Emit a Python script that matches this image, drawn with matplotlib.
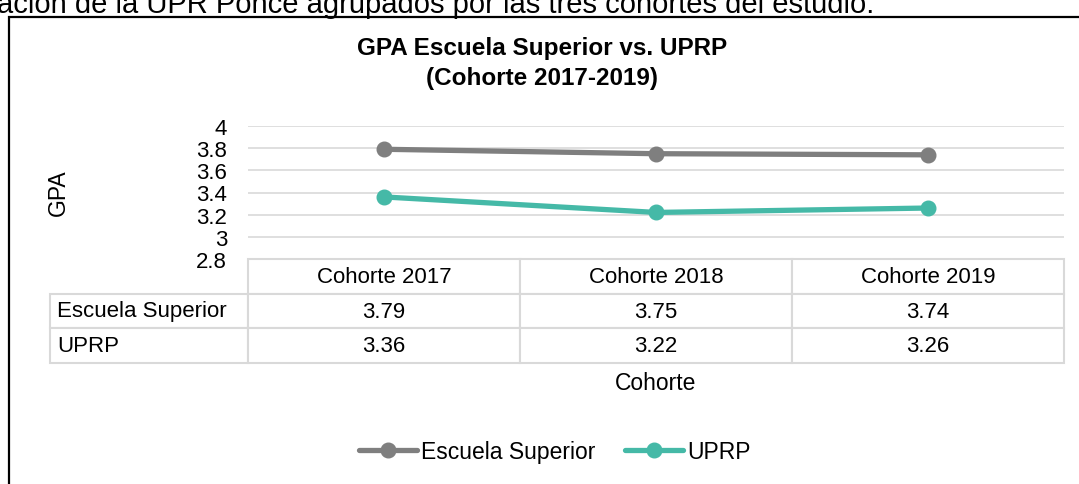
import matplotlib
matplotlib.use("Agg")
import matplotlib.pyplot as plt
from matplotlib.table import Table
from matplotlib.patches import Rectangle
from matplotlib.lines import Line2D

# ---- data ----
categories = ["Cohorte 2017", "Cohorte 2018", "Cohorte 2019"]
series_names = ["Escuela Superior", "UPRP"]
escuela_superior = [3.79, 3.75, 3.74]
uprp = [3.36, 3.22, 3.26]
y_ticks = [2.8, 3.0, 3.2, 3.4, 3.6, 3.8, 4.0]
y_tick_labels = ["2.8", "3", "3.2", "3.4", "3.6", "3.8", "4"]
title_lines = ["GPA Escuela Superior vs. UPRP", "(Cohorte 2017-2019)"]
top_text = "ación de la UPR Ponce agrupados por las tres cohortes del estudio."

colors = ["#7f7f7f", "#45b9a7"]
FONT = "Liberation Sans"
plt.rcParams["font.family"] = [FONT, "DejaVu Sans"]

W, H = 1079, 485
fig = plt.figure(figsize=(W / 100, H / 100), dpi=100)
fig.patch.set_facecolor("white")

def fx(px):
    return px / W

def fy(py):
    return 1 - py / H

# frame of the chart box (extends beyond right / bottom edges)
fig.add_artist(Rectangle((fx(9), -0.2), 1.5, fy(18) + 0.2, transform=fig.transFigure,
                         fill=False, ec="black", lw=1.6))

# cut-off document text at top
fig.text(fx(-3), fy(13), top_text, fontsize=21, ha="left", va="baseline", color="black")

# plot area
ax_l, ax_r, ax_t, ax_b = 248, 1064, 127, 260
ax = fig.add_axes([fx(ax_l), fy(ax_b), fx(ax_r - ax_l), (ax_b - ax_t) / H])
x = list(range(len(categories)))
series = [escuela_superior, uprp]
for vals, c, name in zip(series, colors, series_names):
    ax.plot(x, vals, color=c, lw=3.8, marker="o", ms=10.5, solid_capstyle="round",
            label=name, zorder=3)

ax.set_xlim(-0.5, len(categories) - 0.5)
ax.set_ylim(2.8, 4.0)
ax.set_yticks(y_ticks)
ax.set_yticklabels(y_tick_labels)
ax.set_xticks([])
ax.tick_params(axis="y", length=0, pad=15, labelsize=16, labelcolor="black")
for s in ax.spines.values():
    s.set_visible(False)
ax.yaxis.grid(True, color="#d9d9d9", lw=1.2)
ax.set_axisbelow(True)

# data table below the plot (widths/heights in axes fractions)
tab_l, tab_b = 50, 364
axw, axh = ax_r - ax_l, ax_b - ax_t
n_rows = 1 + len(series)
row_h = (tab_b - ax_b) / axh / n_rows
label_w = (ax_l - tab_l) / axw
col_w = 1.0 / len(categories)
table = Table(ax, bbox=[0, -(tab_b - ax_b) / axh, 1, (tab_b - ax_b) / axh])
edge = "#d9d9d9"
for j, cat in enumerate(categories):
    table.add_cell(0, j, width=col_w, height=row_h, text=cat, loc="center", edgecolor=edge)
for i, (name, vals) in enumerate(zip(series_names, series), start=1):
    cell = table.add_cell(i, -1, width=label_w, height=row_h, text=name, loc="left",
                          edgecolor=edge)
    cell.PAD = 0.035
    for j, v in enumerate(vals):
        table.add_cell(i, j, width=col_w, height=row_h, text=f"{v:.2f}", loc="center",
                       edgecolor=edge)
table.auto_set_font_size(False)
table.set_fontsize(16)
for cell in table.get_celld().values():
    cell.set_linewidth(1.5)
    cell.get_text().set_color("black")
    cell.get_text().set_fontfamily([FONT, "DejaVu Sans"])
ax.add_table(table)

# titles and axis labels
fig.text(fx(542), fy(48), title_lines[0], fontsize=17.5, fontweight="bold",
         ha="center", va="center")
fig.text(fx(542), fy(78), title_lines[1], fontsize=17.5, fontweight="bold",
         ha="center", va="center")
fig.text(fx(58), fy(193), "GPA", rotation=90, fontsize=16.5, ha="center", va="center")
fig.text(fx(656), fy(384), "Cohorte", fontsize=16.5, ha="center", va="center")

# legend
handles = [Line2D([], [], color=c, lw=3.8, marker="o", ms=10.5, solid_capstyle="round")
           for c in colors]
fig.legend(handles, series_names, loc="center", bbox_to_anchor=(fx(555), fy(453)),
           ncol=2, frameon=False, fontsize=16.5, handlelength=2.5, handletextpad=0.2,
           columnspacing=1.3)

fig.savefig("out.png", dpi=100)
